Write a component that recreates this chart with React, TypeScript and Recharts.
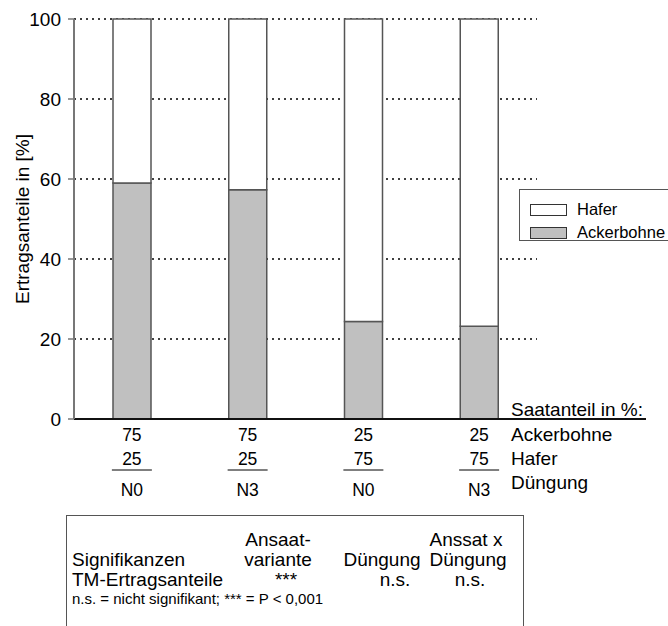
import React from 'react';
import { BarChart, Bar, XAxis, YAxis, CartesianGrid, Legend } from 'recharts';

const categories = ['75/25 N0', '75/25 N3', '25/75 N0', '25/75 N3'];
const ackerbohneSaat = ['75', '75', '25', '25'];
const haferSaat = ['25', '25', '75', '75'];
const duengung = ['N0', 'N3', 'N0', 'N3'];
// Ertragsanteile in %
const ackerbohneErtrag = [59, 57.3, 24.4, 23.2];
const haferErtrag = [41, 42.7, 75.6, 76.8];
const yTicks = [0, 20, 40, 60, 80, 100];

const data = categories.map((name, i) => ({
  name,
  ackerbohne: ackerbohneErtrag[i],
  hafer: haferErtrag[i],
}));

const FONT = '"Liberation Sans", Arial, sans-serif';

const SaatTick = (props: any) => {
  const { x, y, index } = props;
  return (
    <g>
      <text x={x} y={y + 16} dy="0.36em" textAnchor="middle" fontSize={17.5} fill="#000">
        {ackerbohneSaat[index]}
      </text>
      <text x={x} y={y + 40} dy="0.36em" textAnchor="middle" fontSize={17.5} fill="#000">
        {haferSaat[index]}
      </text>
      <line x1={x - 20} x2={x + 20} y1={y + 51} y2={y + 51} stroke="#000" strokeWidth={1} />
      <text x={x} y={y + 71} dy="0.36em" textAnchor="middle" fontSize={17.5} fill="#000">
        {duengung[index]}
      </text>
    </g>
  );
};

const renderLegend = (props: any) => {
  const items = [...(props.payload || [])].reverse();
  return (
    <div
      style={{
        border: '1.5px solid #555',
        background: '#fff',
        width: 150,
        height: 52,
        boxSizing: 'border-box',
        padding: '8px 0 0 10px',
      }}
    >
      {items.map((entry: any) => (
        <div key={entry.value} style={{ display: 'flex', alignItems: 'center', height: 23 }}>
          <span
            style={{
              display: 'inline-block',
              width: 37,
              height: 12,
              background: entry.color,
              border: '1px solid #333',
              boxSizing: 'border-box',
              marginRight: 10,
            }}
          />
          <span style={{ fontSize: 16.5, color: '#000' }}>{entry.value}</span>
        </div>
      ))}
    </div>
  );
};

const abs = (left: number, top: number, size: number, center = false): React.CSSProperties => ({
  position: 'absolute',
  left,
  top,
  fontSize: size,
  lineHeight: 1,
  whiteSpace: 'nowrap',
  transform: center ? 'translate(-50%, -50%)' : 'translateY(-50%)',
});

export default function App() {
  return (
    <div
      style={{
        position: 'absolute',
        left: 0,
        top: 0,
        width: 668,
        height: 626,
        overflow: 'hidden',
        background: '#fff',
        fontFamily: FONT,
        color: '#000',
      }}
    >
      <BarChart width={668} height={626} data={data} margin={{ top: 19, right: 131, bottom: 117, left: 0 }} barSize={38}>
        <CartesianGrid vertical={false} stroke="#000" strokeDasharray="2 4" strokeWidth={1.5} />
        <XAxis
          dataKey="name"
          height={90}
          axisLine={{ stroke: '#111', strokeWidth: 2 }}
          tickLine={false}
          tickSize={0}
          tickMargin={0}
          interval={0}
          tick={<SaatTick />}
        />
        <YAxis
          width={74}
          domain={[0, 100]}
          ticks={yTicks}
          axisLine={{ stroke: '#777', strokeWidth: 2 }}
          tickLine={{ stroke: '#777', strokeWidth: 1.5 }}
          tickSize={6}
          tickMargin={7}
          tick={{ fontSize: 19, fill: '#000' }}
          label={{
            value: 'Ertragsanteile in [%]',
            angle: -90,
            position: 'insideLeft',
            offset: 22,
            style: { textAnchor: 'middle', fontSize: 19, fill: '#000' },
          }}
        />
        <Legend
          layout="vertical"
          align="center"
          verticalAlign="middle"
          wrapperStyle={{ left: 519, top: 189, width: 150, height: 52 }}
          content={renderLegend}
        />
        <Bar dataKey="ackerbohne" name="Ackerbohne" stackId="a" fill="#c0c0c0" stroke="#555" strokeWidth={1.5} isAnimationActive={false} />
        <Bar dataKey="hafer" name="Hafer" stackId="a" fill="#ffffff" stroke="#555" strokeWidth={1.5} isAnimationActive={false} />
      </BarChart>

      {/* Achsenbeschriftung rechts */}
      <div style={{ position: 'absolute', left: 536, top: 418, width: 110, height: 2, background: '#111' }} />
      <div style={abs(511, 409, 19)}>Saatanteil in %:</div>
      <div style={abs(511, 434, 19)}>Ackerbohne</div>
      <div style={abs(511, 458, 19)}>Hafer</div>
      <div style={abs(511, 482, 19)}>Düngung</div>

      {/* Signifikanzen */}
      <div
        style={{
          position: 'absolute',
          left: 66,
          top: 515,
          width: 458,
          height: 140,
          border: '1.5px solid #555',
          boxSizing: 'border-box',
        }}
      />
      <div style={abs(72, 559, 19)}>Signifikanzen</div>
      <div style={abs(72, 579, 19)}>TM-Ertragsanteile</div>
      <div style={abs(278, 539, 19, true)}>Ansaat-</div>
      <div style={abs(278, 559, 19, true)}>variante</div>
      <div style={abs(286, 579, 19, true)}>***</div>
      <div style={abs(382, 559, 19, true)}>Düngung</div>
      <div style={abs(395, 579, 19, true)}>n.s.</div>
      <div style={abs(466, 539, 19, true)}>Anssat x</div>
      <div style={abs(468, 559, 19, true)}>Düngung</div>
      <div style={abs(470, 579, 19, true)}>n.s.</div>
      <div style={abs(72, 598, 15)}>n.s. = nicht signifikant; *** = P &lt; 0,001</div>
    </div>
  );
}
